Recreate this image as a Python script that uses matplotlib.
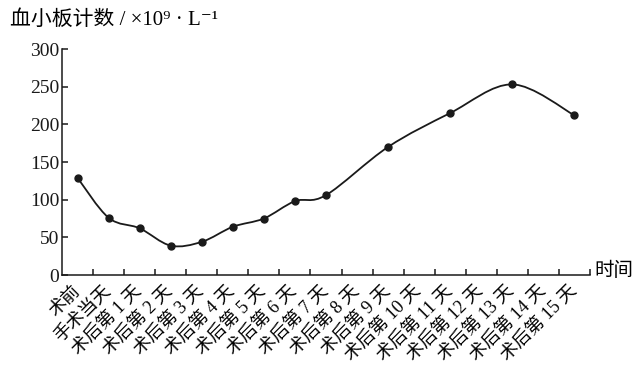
import numpy as np
import matplotlib
matplotlib.use("Agg")
import matplotlib.pyplot as plt
from matplotlib.path import Path
from matplotlib.patches import PathPatch

# ---- data ----
categories = ["术前", "手术当天", "术后第 1 天", "术后第 2 天", "术后第 3 天", "术后第 4 天",
              "术后第 5 天", "术后第 6 天", "术后第 7 天", "术后第 8 天", "术后第 9 天",
              "术后第 10 天", "术后第 11 天", "术后第 12 天", "术后第 13 天", "术后第 14 天",
              "术后第 15 天"]
platelets = [129, 76, 62, 39, 44, 64, 75, 98, 106, None, 170, None, 215, None, 253, None, 212]
y_ticks = [0, 50, 100, 150, 200, 250, 300]
y_label = "血小板计数 / ×10⁹ · L⁻¹"
x_label = "时间"

FAM = ["Liberation Serif", "DejaVu Serif", "Noto Sans CJK SC"]

fig = plt.figure(figsize=(6.36, 3.74), dpi=100)
ax = fig.add_axes([62/636, 1-275/374, 528/636, 226/374])

xs = np.array([i + 0.5 for i, v in enumerate(platelets) if v is not None])
ys = np.array([v for v in platelets if v is not None], dtype=float)

# smooth curve through the points (Catmull-Rom -> cubic Bezier)
P = np.column_stack([xs, ys])
ext = np.vstack([P[0], P, P[-1]])
verts = [tuple(P[0])]
codes = [Path.MOVETO]
for i in range(len(P) - 1):
    p0, p1, p2, p3 = ext[i], ext[i+1], ext[i+2], ext[i+3]
    c1 = p1 + (p2 - p0) / 6.0
    c2 = p2 - (p3 - p1) / 6.0
    verts += [tuple(c1), tuple(c2), tuple(p2)]
    codes += [Path.CURVE4] * 3
ax.add_patch(PathPatch(Path(verts, codes), facecolor="none", edgecolor="#1a1a1a", lw=1.3,
                       joinstyle="round", capstyle="round"))
ax.plot(xs, ys, "o", color="#1a1a1a", ms=5, zorder=3)

ax.set_xlim(0, len(categories))
ax.set_ylim(0, 300)
for s in ["top", "right"]:
    ax.spines[s].set_visible(False)
for s in ["left", "bottom"]:
    ax.spines[s].set_linewidth(1.1)
    ax.spines[s].set_color("#1a1a1a")

ax.set_yticks(y_ticks)
ax.set_yticklabels([str(t) for t in y_ticks], family=FAM, fontsize=14)
ax.tick_params(axis="y", direction="in", length=4, width=1.1, pad=2, colors="#1a1a1a")

ax.set_xticks(np.arange(1, len(categories) + 1))
ax.set_xticklabels([])
ax.tick_params(axis="x", which="major", direction="in", length=4, width=1.1, colors="#1a1a1a")
ax.set_xticks(np.arange(len(categories)) + 0.5, minor=True)
ax.set_xticklabels(categories, minor=True, rotation=45, ha="right", va="center",
                   rotation_mode="anchor", family=FAM, fontsize=13, fontweight="light")
ax.tick_params(axis="x", which="minor", length=0, pad=10)

fig.text(10/636, 1 - 20/374, y_label, family=FAM, fontsize=15, va="center", ha="left")
ax.annotate(x_label, xy=(len(categories), 0), xytext=(3, 3), textcoords="offset points",
            family=["Noto Sans CJK SC"], fontsize=14, va="center", ha="left",
            annotation_clip=False)

fig.savefig("out.png", dpi=100)
